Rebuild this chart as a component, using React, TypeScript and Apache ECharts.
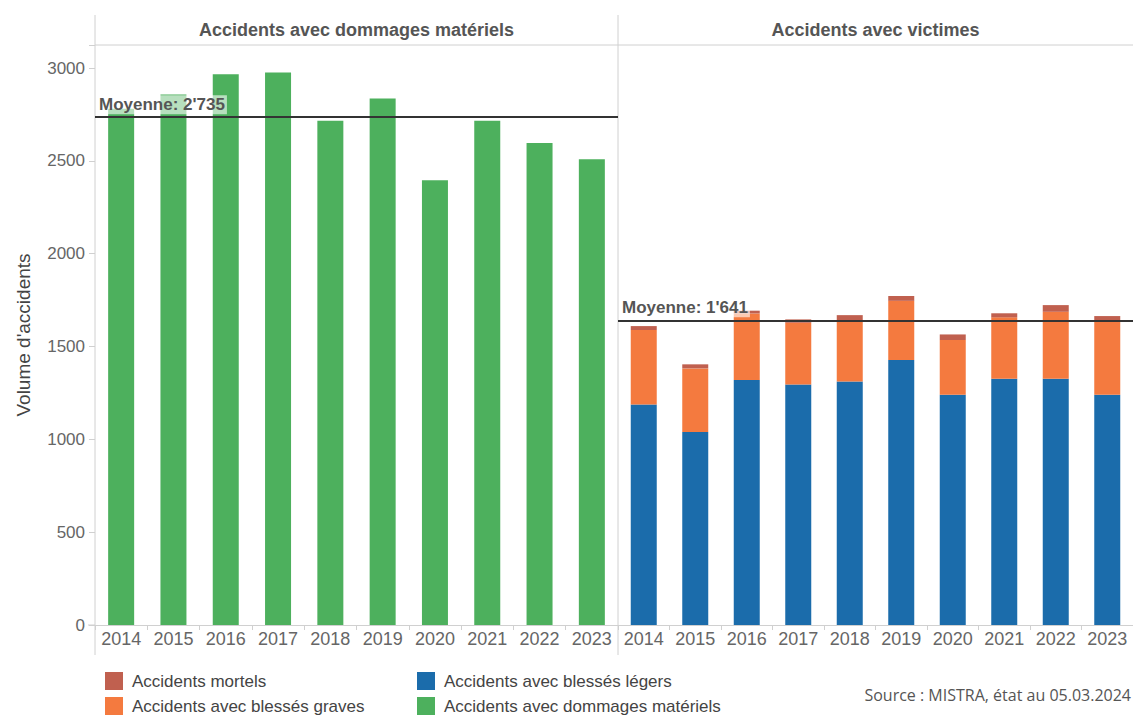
import React, { useEffect, useRef } from "react";
import * as echarts from "echarts";

const years = ["2014", "2015", "2016", "2017", "2018", "2019", "2020", "2021", "2022", "2023"];
const materiels = [2780, 2858, 2967, 2976, 2716, 2836, 2396, 2716, 2596, 2509];
const legers = [1188, 1039, 1319, 1296, 1312, 1427, 1240, 1326, 1326, 1240];
const graves = [401, 343, 359, 332, 321, 319, 295, 331, 361, 397];
const mortels = [21, 22, 15, 18, 36, 26, 30, 22, 36, 27];
const moyenneMateriels = 2735;
const moyenneVictimes = 1641;
const yTicks = [0, 500, 1000, 1500, 2000, 2500, 3000];
const panelTitles = ["Accidents avec dommages matériels", "Accidents avec victimes"];
const seriesNames = [
  "Accidents mortels",
  "Accidents avec blessés graves",
  "Accidents avec blessés légers",
  "Accidents avec dommages matériels",
];
const colors = {
  mortels: "#c0604f",
  graves: "#f47a3f",
  legers: "#1b6cab",
  materiels: "#4db05d",
};
const sourceText = "Source : MISTRA, état au 05.03.2024";

const fmt = (v: number) => {
  const s = String(Math.round(v));
  return s.replace(/\B(?=(\d{3})+(?!\d))/g, "'");
};

const FONT = "'Liberation Sans', Arial, sans-serif";
const GRID_TOP = 45;
const GRID_BOTTOM_Y = 625;
const LEFT_X0 = 95;
const MID_X = 618;
const RIGHT_X1 = 1133;

export default function App() {
  const ref = useRef<HTMLDivElement>(null);
  useEffect(() => {
    if (!ref.current) return;
    const chart = echarts.init(ref.current, undefined, { renderer: "svg" });
    const yMax = 3124;
    const meanLine = (v: number) => ({
      symbol: ["none", "none"],
      silent: true,
      lineStyle: { color: "#333", width: 2, type: "solid" },
      label: {
        show: true,
        position: "insideStartTop",
        distance: [2, 3],
        formatter: () => "Moyenne: " + fmt(v),
        fontFamily: FONT,
        fontWeight: "bold",
        fontSize: 17,
        color: "#555",
        backgroundColor: "rgba(255,255,255,0.6)",
        padding: [1, 2],
      },
      data: [{ yAxis: v }],
    });
    const xAxisCommon = {
      type: "category",
      data: years,
      axisLine: { show: true, lineStyle: { color: "#d0d0d0", width: 1 } },
      axisTick: { show: true, length: 5, lineStyle: { color: "#d0d0d0" } },
      axisLabel: { color: "#666", fontSize: 18, fontFamily: FONT, margin: 5, interval: 0 },
    };
    const yAxisCommon = {
      type: "value",
      min: 0,
      max: yMax,
      interval: 500,
      splitLine: { show: false },
      axisLine: { show: false },
    };
    const legendAt = (name: string, left: number, top: number) => ({
      left,
      top,
      padding: 0,
      itemWidth: 18,
      itemHeight: 18,
      icon: "rect",
      selectedMode: false,
      textStyle: { color: "#444", fontSize: 17, fontFamily: FONT, padding: [0, 0, 0, 4] },
      data: [name],
    });
    chart.setOption({
      animation: false,
      textStyle: { fontFamily: FONT },
      grid: [
        { left: LEFT_X0, top: GRID_TOP, width: MID_X - LEFT_X0, height: GRID_BOTTOM_Y - GRID_TOP },
        { left: MID_X, top: GRID_TOP, width: RIGHT_X1 - MID_X, height: GRID_BOTTOM_Y - GRID_TOP },
      ],
      xAxis: [
        { ...xAxisCommon, gridIndex: 0 },
        { ...xAxisCommon, gridIndex: 1 },
      ],
      yAxis: [
        {
          ...yAxisCommon,
          gridIndex: 0,
          name: "Volume d'accidents",
          nameLocation: "middle",
          nameGap: 62,
          nameTextStyle: { color: "#444", fontSize: 19, fontFamily: FONT },
          axisTick: { show: true, length: 6, lineStyle: { color: "#d0d0d0" } },
          axisLabel: {
            color: "#666",
            fontSize: 17,
            fontFamily: FONT,
            margin: 10,
            formatter: (v: number) => (yTicks.indexOf(v) >= 0 ? String(v) : ""),
          },
        },
        {
          ...yAxisCommon,
          gridIndex: 1,
          axisTick: { show: false },
          axisLabel: { show: false },
        },
      ],
      legend: [
        legendAt(seriesNames[0], 105, 672),
        legendAt(seriesNames[1], 105, 697),
        legendAt(seriesNames[2], 417, 672),
        legendAt(seriesNames[3], 417, 697),
      ],
      graphic: [
        {
          type: "line",
          silent: true,
          shape: { x1: LEFT_X0, y1: 15, x2: LEFT_X0, y2: 655 },
          style: { stroke: "#d0d0d0", lineWidth: 1 },
        },
        {
          type: "line",
          silent: true,
          shape: { x1: MID_X, y1: 15, x2: MID_X, y2: 655 },
          style: { stroke: "#d0d0d0", lineWidth: 1 },
        },
        {
          type: "line",
          silent: true,
          shape: { x1: LEFT_X0, y1: GRID_TOP, x2: RIGHT_X1, y2: GRID_TOP },
          style: { stroke: "#d0d0d0", lineWidth: 1 },
        },
        {
          type: "line",
          silent: true,
          shape: { x1: 88, y1: GRID_BOTTOM_Y, x2: LEFT_X0, y2: GRID_BOTTOM_Y },
          style: { stroke: "#d0d0d0", lineWidth: 1 },
        },
        {
          type: "text",
          silent: true,
          x: (LEFT_X0 + MID_X) / 2,
          y: 30,
          style: {
            text: panelTitles[0],
            fill: "#555",
            font: "bold 18px " + FONT,
            textAlign: "center",
            textVerticalAlign: "middle",
          },
        },
        {
          type: "text",
          silent: true,
          x: (MID_X + RIGHT_X1) / 2,
          y: 30,
          style: {
            text: panelTitles[1],
            fill: "#555",
            font: "bold 18px " + FONT,
            textAlign: "center",
            textVerticalAlign: "middle",
          },
        },
        {
          type: "text",
          silent: true,
          x: 1131,
          y: 695,
          style: {
            text: sourceText,
            fill: "#555",
            font: "16px 'Open Sans', sans-serif",
            textAlign: "right",
            textVerticalAlign: "middle",
          },
        },
      ],
      series: [
        {
          name: seriesNames[3],
          type: "bar",
          xAxisIndex: 0,
          yAxisIndex: 0,
          barWidth: 26,
          data: materiels,
          itemStyle: { color: colors.materiels },
          markLine: meanLine(moyenneMateriels),
        },
        {
          name: seriesNames[2],
          type: "bar",
          stack: "victimes",
          xAxisIndex: 1,
          yAxisIndex: 1,
          barWidth: 26,
          data: legers,
          itemStyle: { color: colors.legers },
        },
        {
          name: seriesNames[1],
          type: "bar",
          stack: "victimes",
          xAxisIndex: 1,
          yAxisIndex: 1,
          barWidth: 26,
          data: graves,
          itemStyle: { color: colors.graves },
        },
        {
          name: seriesNames[0],
          type: "bar",
          stack: "victimes",
          xAxisIndex: 1,
          yAxisIndex: 1,
          barWidth: 26,
          data: mortels,
          itemStyle: { color: colors.mortels },
          markLine: meanLine(moyenneVictimes),
        },
      ],
    });
    return () => chart.dispose();
  }, []);
  return (
    <div
      ref={ref}
      style={{ position: "fixed", left: 0, top: 0, width: 1133, height: 715, background: "#fff" }}
    />
  );
}
